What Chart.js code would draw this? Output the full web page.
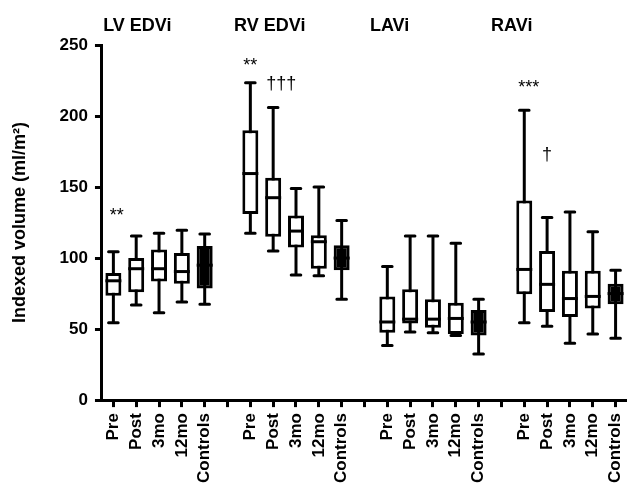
<!DOCTYPE html>
<html>
<head>
<meta charset="utf-8">
<script src="https://cdn.jsdelivr.net/npm/chart.js@4.4.1/dist/chart.umd.min.js"></script>
<style>
  html, body { margin: 0; padding: 0; background: #fff; }
  #wrap { width: 627px; height: 494px; }
</style>
</head>
<body>
<div id="wrap"><canvas id="chart" width="627" height="494"></canvas></div>
<script>
// ============================================
// Indexed chamber volumes - box & whisker plot
// ============================================

const groups = ['LV EDVi', 'RV EDVi', 'LAVi', 'RAVi'];
const timepoints = ['Pre', 'Post', '3mo', '12mo', 'Controls'];

// one row per group, one value per timepoint
const whiskerMin = [
    [54.5, 67, 61.5, 69, 67.5],
    [117.5, 105, 88, 87.5, 71],
    [38.5, 48, 47.5, 45.5, 32.5],
    [54.5, 52, 40, 46.5, 43.5]
];
const quartile1 = [
    [73.5, 76, 83.5, 82, 78.5],
    [131, 115, 107.5, 92.5, 91.5],
    [47.5, 54, 51, 46.5, 45.5],
    [74.5, 62, 58.5, 64.5, 67.5]
];
const medians = [
    [84, 92.5, 92.5, 90.5, 95],
    [159.5, 142.5, 119, 111.5, 100],
    [55, 57, 57, 57.5, 55],
    [92, 81.5, 71.5, 73, 75]
];
const quartile3 = [
    [89.5, 100, 106, 103.5, 108.5],
    [190, 156.5, 130, 116, 109],
    [73, 78, 71, 68.5, 63.5],
    [140.5, 105, 91, 91, 82]
];
const whiskerMax = [
    [104.5, 115.5, 117.5, 119.5, 117],
    [223.5, 206, 149, 150, 126.5],
    [94, 115.5, 115.5, 110.5, 71],
    [204, 128.5, 132.5, 118.5, 91.5]
];

const yTicks = [0, 50, 100, 150, 200, 250];

// significance marks: text, category position, value of baseline
const markText = ['**', '**', '\u2020\u2020\u2020', '***', '\u2020'];
const markPos = [0.15, 6, 7.35, 18.2, 19];
const markValue = [126, 232, 219, 216, 169];

// group titles: category position of centre
const titlePos = [1.05, 6.85, 12.1, 17.45];

// Build flat category list with an empty slot between groups
const labels = [];
const boxes = [], mins = [], maxs = [], meds = [], fills = [];
groups.forEach((g, gi) => {
    if (gi > 0) {
        labels.push('');
        boxes.push(null); mins.push(null); maxs.push(null); meds.push(null);
        fills.push('#fff');
    }
    timepoints.forEach((t, ti) => {
        labels.push(t);
        boxes.push([quartile1[gi][ti], quartile3[gi][ti]]);
        mins.push(whiskerMin[gi][ti]);
        maxs.push(whiskerMax[gi][ti]);
        meds.push(medians[gi][ti]);
        fills.push(t === 'Controls' ? '#000' : '#fff');
    });
});

const FONT = '"Liberation Sans", Arial, sans-serif';

// Whiskers behind the boxes, medians on top, plus titles and marks
const boxPlotPlugin = {
    id: 'boxPlot',
    beforeDatasetsDraw(chart) {
        const ctx = chart.ctx;
        const y = chart.scales.y;
        const meta = chart.getDatasetMeta(0);
        ctx.save();
        ctx.strokeStyle = '#000';
        ctx.lineWidth = 3;
        meta.data.forEach((bar, i) => {
            if (mins[i] === null) return;
            const x = bar.x;
            const capHalf = bar.width * 0.3;
            const yMin = y.getPixelForValue(mins[i]);
            const yMax = y.getPixelForValue(maxs[i]);
            ctx.lineCap = 'butt';
            ctx.beginPath();
            ctx.moveTo(x, yMin);
            ctx.lineTo(x, yMax);
            ctx.stroke();
            ctx.lineCap = 'round';
            ctx.beginPath();
            ctx.moveTo(x - capHalf, yMin);
            ctx.lineTo(x + capHalf, yMin);
            ctx.moveTo(x - capHalf, yMax);
            ctx.lineTo(x + capHalf, yMax);
            ctx.stroke();
        });
        ctx.restore();
    },
    afterDatasetsDraw(chart) {
        const ctx = chart.ctx;
        const x = chart.scales.x;
        const y = chart.scales.y;
        const meta = chart.getDatasetMeta(0);
        ctx.save();
        ctx.strokeStyle = '#000';
        ctx.lineWidth = 3;
        meta.data.forEach((bar, i) => {
            if (meds[i] === null) return;
            const ym = y.getPixelForValue(meds[i]);
            ctx.beginPath();
            ctx.moveTo(bar.x - bar.width / 2, ym);
            ctx.lineTo(bar.x + bar.width / 2, ym);
            ctx.stroke();
        });

        // significance marks
        ctx.fillStyle = '#000';
        ctx.font = '18px ' + FONT;
        ctx.textAlign = 'center';
        ctx.textBaseline = 'alphabetic';
        markText.forEach((t, i) => {
            ctx.fillText(t, x.getPixelForValue(markPos[i]), y.getPixelForValue(markValue[i]));
        });

        // group titles
        ctx.font = 'bold 18px ' + FONT;
        groups.forEach((g, i) => {
            ctx.fillText(g, x.getPixelForValue(titlePos[i]), 31);
        });
        ctx.restore();
    }
};

const chart = new Chart(document.getElementById('chart'), {
    type: 'bar',
    data: {
        labels: labels,
        datasets: [{
            data: boxes,
            backgroundColor: fills,
            borderColor: '#000',
            borderWidth: 3,
            borderSkipped: false,
            barPercentage: 0.7,
            categoryPercentage: 1
        }]
    },
    options: {
        responsive: false,
        animation: false,
        layout: {
            padding: { top: 45, right: 0, left: 9, bottom: 5 }
        },
        plugins: {
            legend: { display: false },
            tooltip: { enabled: false }
        },
        scales: {
            x: {
                type: 'category',
                offset: true,
                afterFit(scale) {
                    // let the axis run to the right edge like the original
                    scale.paddingRight = 0;
                },
                border: { display: true, color: '#000', width: 3 },
                grid: {
                    offset: false,
                    drawOnChartArea: false,
                    drawTicks: true,
                    tickLength: 7,
                    tickWidth: 3,
                    tickColor: '#000'
                },
                ticks: {
                    autoSkip: false,
                    minRotation: 90,
                    maxRotation: 90,
                    padding: 6,
                    color: '#000',
                    font: { family: FONT, size: 17, weight: 'bold' }
                }
            },
            y: {
                min: 0,
                max: 250,
                afterBuildTicks(axis) {
                    axis.ticks = yTicks.map(v => ({ value: v }));
                },
                border: { display: true, color: '#000', width: 3 },
                grid: {
                    drawOnChartArea: false,
                    drawTicks: true,
                    tickLength: 7,
                    tickWidth: 3,
                    tickColor: '#000'
                },
                ticks: {
                    padding: 7,
                    color: '#000',
                    font: { family: FONT, size: 17, weight: 'bold' }
                },
                title: {
                    display: true,
                    text: 'Indexed volume (ml/m\u00b2)',
                    color: '#000',
                    padding: { top: 0, bottom: 22 },
                    font: { family: FONT, size: 18, weight: 'bold' }
                }
            }
        }
    },
    plugins: [boxPlotPlugin]
});
</script>
</body>
</html>
